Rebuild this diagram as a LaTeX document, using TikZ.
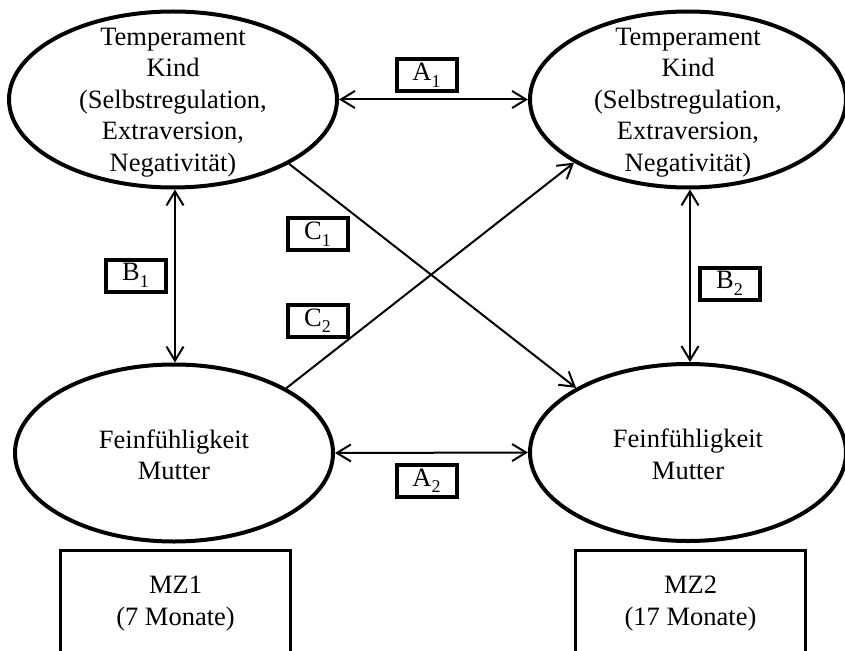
\documentclass[tikz,border=0pt]{standalone}
\usepackage{fontspec}
\setmainfont{Liberation Serif}
\usetikzlibrary{shapes.geometric,arrows.meta}

% lowered index for the path labels (A1, B1, ...)
\newcommand{\lowsub}[1]{{\fontsize{18}{18}\selectfont\raisebox{-6.5pt}{#1}}}

\tikzset{
  bodyfont/.style={font=\fontsize{26.5}{31.5}\selectfont},
  construct/.style={ellipse, draw, line width=4pt, inner sep=0pt},
  ctext/.style={bodyfont, align=center, inner sep=0pt},
  pathlabel/.style={draw, line width=4pt, bodyfont, inner sep=0pt,
    minimum width=60pt, minimum height=32pt},
  wavebox/.style={draw, line width=3.8pt, bodyfont, align=center, inner sep=0pt,
    minimum width=230pt, minimum height=106pt},
  barb/.tip={Straight Barb[length=14pt,width=17pt]},
  link/.style={line width=2pt, -barb},
  mutual/.style={line width=2pt, barb-barb}
}

\begin{document}
\begin{tikzpicture}[x=1pt,y=-1pt]
  \useasboundingbox (0,0) rectangle (845,650);
  \clip (0,0) rectangle (845,650);

  % latent constructs at the two measurement points
  \node[construct, minimum width=328pt, minimum height=176pt] (tl) at (173,99.5) {};
  \node[construct, minimum width=316pt, minimum height=176pt] (tr) at (688,99.5) {};
  \node[construct, minimum width=318pt, minimum height=177pt] (bl) at (174,453) {};
  \node[construct, minimum width=316pt, minimum height=177pt] (br) at (688,452.5) {};

  \node[ctext] (tlt) at ([yshift=-3pt]tl.center) {Temperament\\Kind\\(Selbstregulation,\\Extraversion,\\Negativität)};
  \node[ctext] (trt) at ([yshift=-3pt]tr.center) {Temperament\\Kind\\(Selbstregulation,\\Extraversion,\\Negativität)};
  \node[ctext] (blt) at ([yshift=-2pt]bl.center) {Feinfühligkeit\\Mutter};
  \node[ctext] (brt) at ([yshift=-2pt]br.center) {Feinfühligkeit\\Mutter};

  % measurement points
  \node[wavebox] (mz1) at (175.5,603.5) {MZ1\\(7 Monate)};
  \node[wavebox] (mz2) at (690.5,603.5) {MZ2\\(17 Monate)};

  % paths
  \draw[mutual] (tl.east) -- (tr.east -| tr.west);
  \draw[mutual] (bl.east) -- (br.west);
  \draw[mutual] ([xshift=2pt]tl.south) -- ([xshift=1pt]bl.north);
  \draw[mutual] ([xshift=2pt]tr.south) -- ([xshift=2pt]br.north);
  \draw[link] (tl.-29) -- (br.150);
  \draw[link] (bl.30) -- (tr.209);

  % path labels
  \node[pathlabel] (a1) at (426.5,75.5) {A\lowsub{1}};
  \node[pathlabel] (a2) at (426.5,480.5) {A\lowsub{2}};
  \node[pathlabel] (b1) at (135.5,275.5) {B\lowsub{1}};
  \node[pathlabel] (b2) at (729.5,283.5) {B\lowsub{2}};
  \node[pathlabel] (c1) at (317.5,234) {C\lowsub{1}};
  \node[pathlabel] (c2) at (317.5,320.5) {C\lowsub{2}};
\end{tikzpicture}
\end{document}
